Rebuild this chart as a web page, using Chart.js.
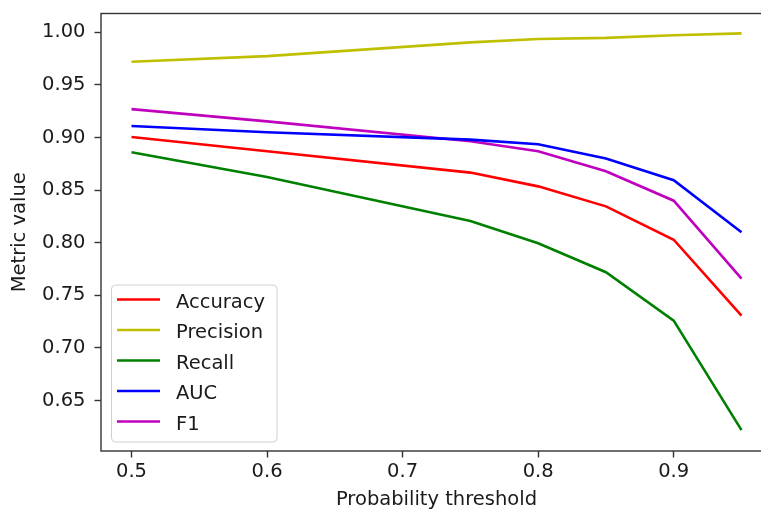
<!DOCTYPE html>
<html>
<head>
<meta charset="utf-8">
<script src="https://cdn.jsdelivr.net/npm/chart.js@4/dist/chart.umd.min.js"></script>
<style>
  html,body{margin:0;padding:0;background:#fff;overflow:hidden;}
  #wrap{width:790px;height:514px;}
</style>
</head>
<body>
<div id="wrap"><canvas id="metrics" width="790" height="514"></canvas></div>
<script>
'use strict';

// thresholds and metric values per threshold
var thresholds = [0.5, 0.6, 0.75, 0.8, 0.85, 0.9, 0.95];
var accuracy   = [0.9006, 0.887, 0.8667, 0.8536, 0.8346, 0.8029, 0.7308];
var precision  = [0.972, 0.9774, 0.9905, 0.9937, 0.9947, 0.9972, 0.999];
var recall     = [0.886, 0.8625, 0.8206, 0.7996, 0.772, 0.726, 0.622];
var auc        = [0.911, 0.905, 0.898, 0.8936, 0.880, 0.8595, 0.810];
var f1         = [0.927, 0.9154, 0.8965, 0.887, 0.868, 0.840, 0.766];

var xTicks = [0.5, 0.6, 0.7, 0.8, 0.9];
var yTicks = [0.65, 0.70, 0.75, 0.80, 0.85, 0.90, 0.95, 1.00];

var FONT = 'DejaVu Sans';
var FSIZE = 19.5;
var TXT = '#1a1a1a';
Chart.defaults.font.family = FONT;
Chart.defaults.font.size = FSIZE;
Chart.defaults.color = TXT;

function pts(vals){
  return vals.map(function(v,i){return {x:thresholds[i],y:v};});
}
function series(label,vals,col){
  return {label:label,data:pts(vals),borderColor:col,backgroundColor:col,
    borderWidth:2.6,pointRadius:0,pointHoverRadius:0,tension:0,fill:false};
}
// no extra room for half-height/half-width edge labels
function noEdgePad(s){s.paddingTop=0;s.paddingBottom=0;s.paddingLeft=0;s.paddingRight=0;}

// axes frame + legend box in the lower left of the plot
var frameLegend = {
  id:'frameLegend',
  afterDatasetsDraw:function(chart){
    var ctx=chart.ctx, a=chart.chartArea;
    ctx.save();
    ctx.strokeStyle='#333';ctx.lineWidth=1.4;
    ctx.strokeRect(a.left,a.top,a.right-a.left,a.bottom-a.top);

    var ds=chart.data.datasets;
    ctx.font=FSIZE+'px "'+FONT+'"';
    var maxW=0;
    for(var i=0;i<ds.length;i++)maxW=Math.max(maxW,ctx.measureText(ds[i].label).width);
    var bx=a.left+10.5, by=a.bottom-166, rowH=30.5;
    var bw=(75+maxW+12)-10.5, bh=157;
    ctx.beginPath();
    ctx.roundRect(bx,by,bw,bh,4);
    ctx.fillStyle='rgba(255,255,255,0.8)';ctx.fill();
    ctx.strokeStyle='#d0d0d0';ctx.lineWidth=1;ctx.stroke();
    ctx.textBaseline='middle';ctx.textAlign='left';
    for(var j=0;j<ds.length;j++){
      var y=by+14.5+j*rowH;
      ctx.beginPath();
      ctx.moveTo(a.left+16,y);ctx.lineTo(a.left+59,y);
      ctx.strokeStyle=ds[j].borderColor;ctx.lineWidth=2.6;ctx.stroke();
      ctx.fillStyle=TXT;
      ctx.fillText(ds[j].label,a.left+75,y+3);
    }
    ctx.restore();
  }
};

new Chart(document.getElementById('metrics'),{
  type:'line',
  data:{datasets:[
    series('Accuracy',accuracy,'#ff0000'),
    series('Precision',precision,'#bfbf00'),
    series('Recall',recall,'#008000'),
    series('AUC',auc,'#0000ff'),
    series('F1',f1,'#bf00bf')
  ]},
  options:{
    responsive:false,animation:false,
    layout:{padding:{top:13.5,right:18,left:0,bottom:0}},
    plugins:{legend:{display:false},tooltip:{enabled:false}},
    scales:{
      x:{type:'linear',min:0.4775,max:0.9725,
        afterFit:function(s){s.height=63;noEdgePad(s);},
        afterBuildTicks:function(s){s.ticks=xTicks.map(function(v){return {value:v};});},
        ticks:{padding:3,maxRotation:0,autoSkip:false,callback:function(v){return v.toFixed(1);}},
        grid:{drawOnChartArea:false,drawTicks:true,tickLength:6.5,tickColor:'#333',tickWidth:1.4},
        border:{display:false},
        title:{display:true,text:'Probability threshold',padding:{top:0,bottom:2.5}}
      },
      y:{type:'linear',min:0.6021,max:1.0179,
        afterFit:function(s){s.width=101;noEdgePad(s);},
        afterBuildTicks:function(s){s.ticks=yTicks.map(function(v){return {value:v};});},
        ticks:{padding:9,autoSkip:false,callback:function(v){return v.toFixed(2);}},
        grid:{drawOnChartArea:false,drawTicks:true,tickLength:6.5,tickColor:'#333',tickWidth:1.4},
        border:{display:false},
        title:{display:true,text:'Metric value',padding:{top:8.5,bottom:0}}
      }
    }
  },
  plugins:[frameLegend]
});
</script>
</body>
</html>
